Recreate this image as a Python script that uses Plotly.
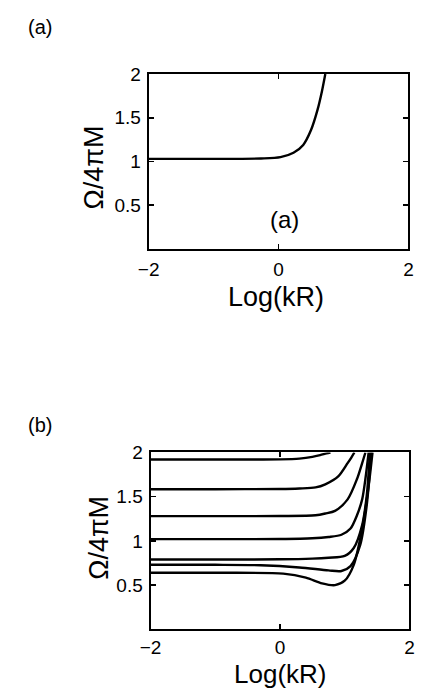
import plotly.graph_objects as go

# ---------------- data ----------------
# Panel (a): single dispersion branch
log_kr_a = [-2.0, -1.0, -0.27, 0.03, 0.23, 0.38, 0.50, 0.60, 0.67, 0.72]
omega_a = [1.03, 1.03, 1.035, 1.05, 1.10, 1.19, 1.36, 1.59, 1.81, 2.0]

# Panel (b): seven dispersion branches
log_kr_b1 = [-2.0, -1.0, 0.0, 0.3, 0.5, 0.62, 0.72, 0.78]
omega_b1 = [1.92, 1.92, 1.922, 1.93, 1.95, 1.97, 1.99, 2.0]

log_kr_b2 = [-2.0, -1.0, 0.0, 0.3, 0.55, 0.7, 0.9, 1.045, 1.1, 1.15]
omega_b2 = [1.585, 1.585, 1.587, 1.593, 1.605, 1.64, 1.73, 1.88, 1.94, 2.0]

log_kr_b3 = [-2.0, -1.0, 0.0, 0.55, 0.7, 0.85, 1.045, 1.19, 1.27, 1.32]
omega_b3 = [1.28, 1.28, 1.282, 1.29, 1.31, 1.34, 1.47, 1.70, 1.88, 2.0]

log_kr_b4 = [-2.0, -1.0, 0.0, 0.5, 0.75, 0.95, 1.09, 1.19, 1.27, 1.32, 1.37]
omega_b4 = [1.02, 1.02, 1.022, 1.03, 1.045, 1.07, 1.14, 1.29, 1.47, 1.70, 2.0]

log_kr_b5 = [-2.0, -1.0, 0.0, 0.5, 0.75, 1.0, 1.14, 1.27, 1.34, 1.39]
omega_b5 = [0.79, 0.79, 0.792, 0.80, 0.81, 0.83, 0.92, 1.18, 1.51, 2.0]

log_kr_b6 = [-2.0, -1.0, -0.3, 0.3, 0.75, 0.95, 1.09, 1.24, 1.34, 1.41]
omega_b6 = [0.73, 0.73, 0.725, 0.70, 0.667, 0.66, 0.715, 0.955, 1.40, 2.0]

log_kr_b7 = [-2.0, -1.0, 0.05, 0.4, 0.65, 0.85, 1.0, 1.14, 1.27, 1.37, 1.43]
omega_b7 = [0.64, 0.64, 0.63, 0.585, 0.52, 0.50, 0.55, 0.73, 1.14, 1.62, 2.0]

x_ticks = [-2, 0, 2]
y_ticks = [0.5, 1, 1.5, 2]
x_title = "Log(kR)"
y_title = "Ω/4πM"

# ---------------- figure ----------------
W, H = 425, 689
FONT = "Liberation Sans, Arial, Helvetica, sans-serif"

fig = go.Figure()

line_style = dict(color="black", width=2.4, shape="spline", smoothing=0.8)

fig.add_trace(go.Scatter(x=log_kr_a, y=omega_a, mode="lines", line=line_style,
                         xaxis="x", yaxis="y", showlegend=False, hoverinfo="skip"))

for xs, ys in [(log_kr_b1, omega_b1), (log_kr_b2, omega_b2), (log_kr_b3, omega_b3),
               (log_kr_b4, omega_b4), (log_kr_b5, omega_b5), (log_kr_b6, omega_b6),
               (log_kr_b7, omega_b7)]:
    fig.add_trace(go.Scatter(x=xs, y=ys, mode="lines", line=line_style,
                             xaxis="x2", yaxis="y2", showlegend=False, hoverinfo="skip"))


def px_x(p):
    return p / W


def px_y(p):
    return 1 - p / H


axis_common = dict(
    showline=True, linecolor="black", linewidth=2, mirror="ticks",
    ticks="inside", ticklen=5, tickwidth=1.5, tickcolor="black",
    showgrid=False, zeroline=False,
    tickfont=dict(family=FONT, size=19, color="black"),
)

fig.update_layout(
    width=W, height=H,
    margin=dict(l=0, r=0, t=0, b=0),
    paper_bgcolor="white", plot_bgcolor="white",
    xaxis=dict(domain=[px_x(143), px_x(413)], range=[-2, 2], tickvals=x_ticks,
               anchor="y", ticklabelstandoff=2, **axis_common),
    yaxis=dict(domain=[px_y(242.5), px_y(65)], range=[0, 2], tickvals=y_ticks,
               anchor="x", ticklabelstandoff=2, **axis_common),
    xaxis2=dict(domain=[px_x(145), px_x(414)], range=[-2, 2], tickvals=x_ticks,
                anchor="y2", ticklabelstandoff=0, **axis_common),
    yaxis2=dict(domain=[px_y(628.5), px_y(449)], range=[0, 2], tickvals=y_ticks,
                anchor="x2", ticklabelstandoff=2, **axis_common),
)

ann_font_lbl = dict(family=FONT, size=27, color="black")
annotations = [
    # panel letters outside
    dict(text="(a)", x=px_x(30), y=px_y(17.5), xref="paper", yref="paper",
         showarrow=False, xanchor="center", yanchor="middle",
         font=dict(family=FONT, size=20, color="black")),
    dict(text="(b)", x=px_x(30), y=px_y(421), xref="paper", yref="paper",
         showarrow=False, xanchor="center", yanchor="middle",
         font=dict(family=FONT, size=20, color="black")),
    # panel letter inside (a)
    dict(text="(a)", x=0.09, y=0.34, xref="x", yref="y",
         showarrow=False, xanchor="center", yanchor="middle",
         font=dict(family=FONT, size=24, color="black")),
    # axis titles
    dict(text=x_title, x=px_x(275), y=px_y(291), xref="paper", yref="paper",
         showarrow=False, xanchor="center", yanchor="middle", font=ann_font_lbl),
    dict(text=x_title, x=px_x(280), y=px_y(674), xref="paper", yref="paper",
         showarrow=False, xanchor="center", yanchor="middle",
         font=dict(family=FONT, size=26, color="black")),
    dict(text=y_title, x=px_x(86), y=px_y(160), xref="paper", yref="paper",
         showarrow=False, xanchor="center", yanchor="middle", textangle=-90,
         font=ann_font_lbl),
    dict(text=y_title, x=px_x(92), y=px_y(536), xref="paper", yref="paper",
         showarrow=False, xanchor="center", yanchor="middle", textangle=-90,
         font=ann_font_lbl),
]
fig.update_layout(annotations=annotations)

post_js = (
    "document.documentElement.style.margin='0';"
    "document.documentElement.style.padding='0';"
    "document.body.style.margin='0';"
    "document.body.style.padding='0';"
    "document.body.style.overflow='hidden';"
)

fig.write_html("out.html", post_script=post_js,
               config={"displayModeBar": False, "staticPlot": True})
